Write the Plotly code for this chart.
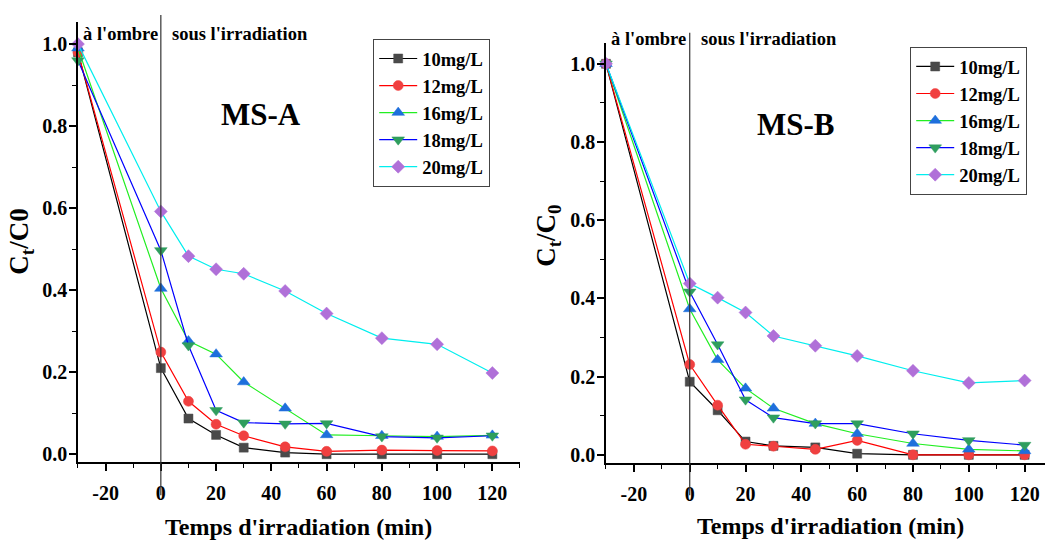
import plotly.graph_objects as go

time = [-30, 0, 10, 20, 30, 45, 60, 80, 100, 120]
names = ["10mg/L", "12mg/L", "16mg/L", "18mg/L", "20mg/L"]
x_ticks = [-20, 0, 20, 40, 60, 80, 100, 120]
x_ticklabels = ["-20", "0", "20", "40", "60", "80", "100", "120"]

msa_10 = [0.98, 0.210, 0.087, 0.047, 0.016, 0.004, 0.000, 0.000, 0.000, 0.000]
msa_12 = [0.98, 0.249, 0.129, 0.073, 0.045, 0.018, 0.007, 0.010, 0.009, 0.008]
msa_16 = [0.99, 0.404, 0.276, 0.244, 0.176, 0.112, 0.047, 0.045, 0.043, 0.046]
msa_18 = [0.96, 0.497, 0.265, 0.107, 0.077, 0.074, 0.075, 0.043, 0.040, 0.045]
msa_20 = [1.00, 0.592, 0.483, 0.451, 0.440, 0.398, 0.343, 0.283, 0.268, 0.198]

msb_10 = [1.00, 0.187, 0.114, 0.034, 0.023, 0.019, 0.003, 0.000, 0.000, 0.000]
msb_12 = [1.00, 0.231, 0.127, 0.027, 0.022, 0.014, 0.037, 0.000, 0.000, 0.000]
msb_16 = [1.00, 0.373, 0.243, 0.170, 0.119, 0.080, 0.054, 0.029, 0.014, 0.010]
msb_18 = [1.00, 0.417, 0.282, 0.141, 0.095, 0.080, 0.080, 0.054, 0.037, 0.025]
msb_20 = [1.00, 0.438, 0.402, 0.364, 0.304, 0.279, 0.253, 0.215, 0.184, 0.190]

line_colors = ["#000000", "#ff0000", "#22ee22", "#0000ff", "#00eeee"]
marker_colors = ["#4a4a4a", "#f04040", "#1e6fdc", "#2f9e5e", "#b070d8"]
symbols = ["square", "circle", "triangle-up", "triangle-down", "diamond"]
sizes = [9, 10, 11, 11, 10]

FONT = "Liberation Serif"

fig = go.Figure()

for series, ax, leg in [([msa_10, msa_12, msa_16, msa_18, msa_20], ("x", "y"), "legend"),
                        ([msb_10, msb_12, msb_16, msb_18, msb_20], ("x2", "y2"), "legend2")]:
    for i, vals in enumerate(series):
        fig.add_trace(go.Scatter(
            x=time, y=vals, name=names[i], mode="lines+markers",
            xaxis=ax[0], yaxis=ax[1], legend=leg, cliponaxis=False,
            line=dict(color=line_colors[i], width=1.2),
            marker=dict(symbol=symbols[i], size=sizes[i], color=marker_colors[i],
                        line=dict(width=0.5, color=marker_colors[i])),
        ))

tickfont = dict(family=FONT, size=20, color="black", weight="bold")
common_x = dict(showline=True, linecolor="black", linewidth=1.5, ticks="outside",
                ticklen=7, tickwidth=1.5, tickcolor="black",
                tickmode="array", tickvals=x_ticks, ticktext=x_ticklabels,
                showgrid=False, zeroline=False, tickfont=tickfont, ticklabelstandoff=5,
                minor=dict(ticks="outside", ticklen=4, tickwidth=1.2, tickcolor="black",
                           tickmode="linear", tick0=0, dtick=10))
common_y = dict(showline=True, linecolor="black", linewidth=1.5, ticks="outside",
                ticklen=7, tickwidth=1.5, tickcolor="black", dtick=0.2, tick0=0,
                tickformat=".1f", showgrid=False, zeroline=False, tickfont=tickfont,
                ticklabelstandoff=-2,
                minor=dict(ticks="outside", ticklen=4, tickwidth=1.2, tickcolor="black", dtick=0.1))

fig.update_layout(
    width=1045, height=546, margin=dict(l=0, r=0, t=0, b=0),
    plot_bgcolor="white", paper_bgcolor="white",
    xaxis=dict(domain=[0.0746, 0.4976], range=[-30, 130], anchor="y", **common_x),
    yaxis=dict(domain=[0.1484, 0.9603], range=[-0.02, 1.055], anchor="x", **common_y),
    xaxis2=dict(domain=[0.5799, 1.0], range=[-30, 127.3], anchor="y2", **common_x),
    yaxis2=dict(domain=[0.1465, 0.9207], range=[-0.022, 1.053], anchor="x2", **common_y),
    legend=dict(x=373/1045, y=1-39/546, xanchor="left", yanchor="top",
                bordercolor="#444", borderwidth=1.2, bgcolor="white",
                font=dict(family=FONT, size=18.5, color="black", weight="bold"),
                itemwidth=38, tracegroupgap=0),
    legend2=dict(x=910/1045, y=1-47/546, xanchor="left", yanchor="top",
                 bordercolor="#444", borderwidth=1.2, bgcolor="white",
                 font=dict(family=FONT, size=18.5, color="black", weight="bold"),
                 itemwidth=38, tracegroupgap=0),
    showlegend=True,
)

# vertical separators at t = 0
fig.add_shape(type="line", xref="x", yref="paper", x0=0, x1=0,
              y0=1-498/546, y1=1-15/546, line=dict(color="#333", width=1.2))
fig.add_shape(type="line", xref="x2", yref="paper", x0=0, x1=0,
              y0=1-498/546, y1=1-33/546, line=dict(color="#333", width=1.2))

def ann(text, x, y, size, angle=0):
    fig.add_annotation(text=text, x=x/1045, y=1-y/546, xref="paper", yref="paper",
                       showarrow=False, textangle=angle, xanchor="center", yanchor="middle",
                       font=dict(family=FONT, size=size, color="black", weight="bold"))

ann("à l'ombre", 120.5, 34, 18.5)
ann("sous l'irradiation", 240, 34, 18.5)
ann("à l'ombre", 648.7, 39, 18.5)
ann("sous l'irradiation", 768.7, 39, 18.5)
ann("MS-A", 261, 115, 31)
ann("MS-B", 796, 125, 31)
ann("Temps d'irradiation (min)", 298, 530, 24)
ann("Temps d'irradiation (min)", 830, 529, 24)
ann("C<sub>t</sub>/C0", 21, 243, 27, -90)
ann("C<sub>t</sub>/C<sub>0</sub>", 548, 237, 27, -90)

fig.write_html("out.html")
